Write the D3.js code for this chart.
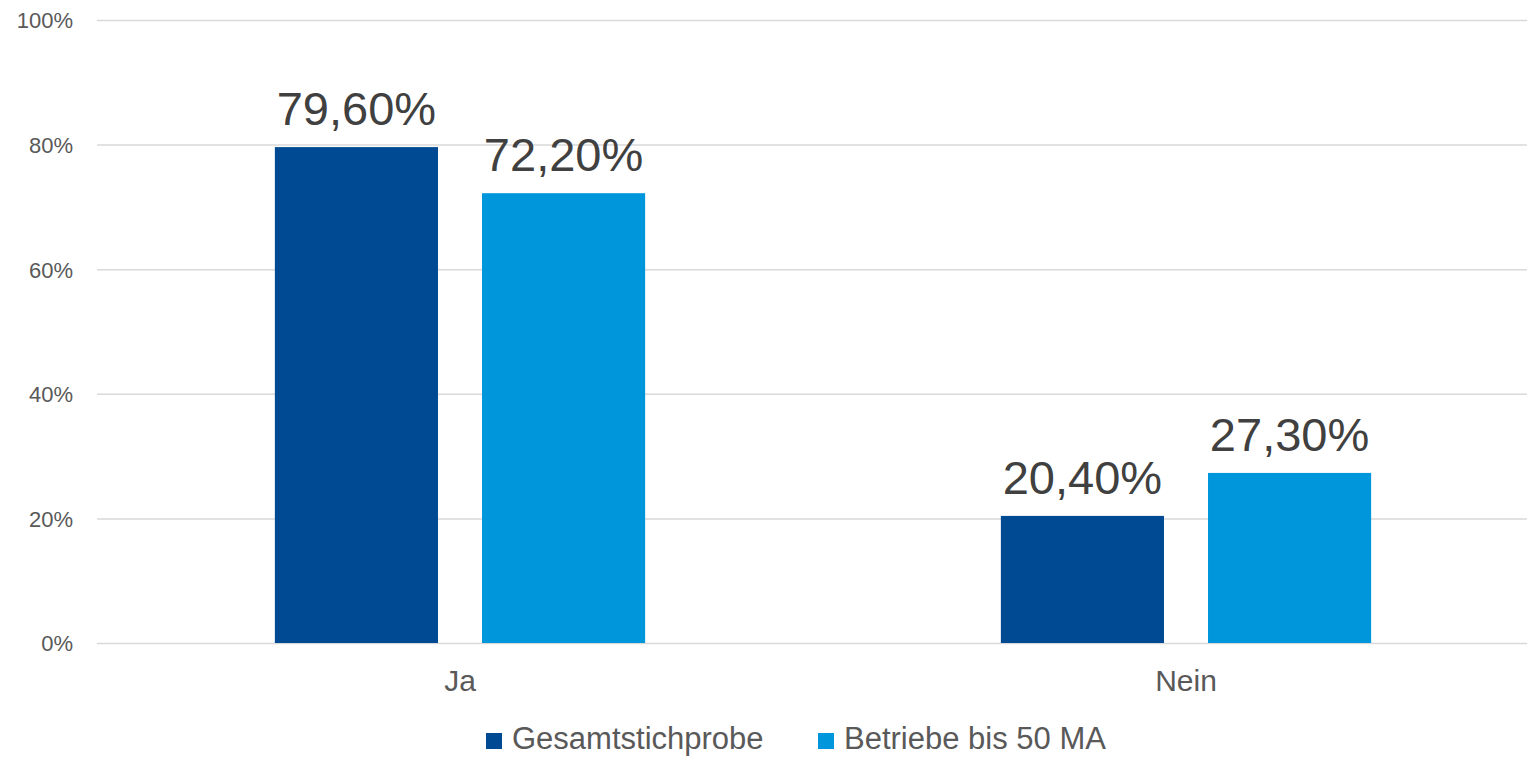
<!DOCTYPE html>
<html>
<head>
<meta charset="utf-8">
<script src="https://cdn.jsdelivr.net/npm/d3@7"></script>
<style>
  body { margin: 0; background: #fff; }
  svg { display: block; font-family: Arial, "Liberation Sans", sans-serif; }
</style>
</head>
<body>
<svg id="chart"></svg>
<script>
const width = 1527;
const height = 757;

// data
const categories = ["Ja", "Nein"];
const seriesNames = ["Gesamtstichprobe", "Betriebe bis 50 MA"];
const gesamt = [79.6, 20.4];
const betriebe = [72.2, 27.3];
const yTicks = [0, 20, 40, 60, 80, 100];
const colors = ["#004A93", "#0096DB"];

const seriesValues = [gesamt, betriebe];

const svg = d3.select("#chart")
    .attr("width", width)
    .attr("height", height)
    .attr("viewBox", [0, 0, width, height]);

const plotLeft = 97, plotRight = 1549, plotTop = 20, plotBottom = 643;

const x0 = d3.scaleBand()
    .domain(categories)
    .range([plotLeft, plotRight])
    .paddingInner(0.49)
    .paddingOuter(0.245);

const x1 = d3.scaleBand()
    .domain(seriesNames)
    .range([0, x0.bandwidth()])
    .paddingInner(0.2126)
    .paddingOuter(0);

const y = d3.scaleLinear()
    .domain([0, 100])
    .range([plotBottom, plotTop]);

// gridlines + y tick labels
const yAxis = svg.append("g")
    .attr("transform", `translate(${plotLeft},0)`)
    .call(d3.axisLeft(y)
        .tickValues(yTicks)
        .tickSize(-(width - plotLeft))
        .tickPadding(24)
        .tickFormat(d => d + "%"));

yAxis.select(".domain").remove();
yAxis.selectAll(".tick line")
    .attr("stroke", "#d9d9d9")
    .attr("stroke-width", 1.5);
yAxis.selectAll(".tick text")
    .attr("fill", "#595959")
    .attr("font-size", 22)
    .attr("dy", "0.36em");

// bars
const rows = categories.map((c, i) => ({
    cat: c,
    vals: seriesNames.map((s, j) => ({ key: s, value: seriesValues[j][i], idx: j }))
}));

const groups = svg.append("g")
    .selectAll("g")
    .data(rows)
    .join("g")
    .attr("transform", d => `translate(${x0(d.cat)},0)`);

groups.selectAll("rect")
    .data(d => d.vals)
    .join("rect")
    .attr("x", d => x1(d.key))
    .attr("y", d => y(d.value))
    .attr("width", x1.bandwidth())
    .attr("height", d => y(0) - y(d.value))
    .attr("fill", d => colors[d.idx]);

groups.selectAll("text.value")
    .data(d => d.vals)
    .join("text")
    .attr("class", "value")
    .attr("x", d => x1(d.key) + x1.bandwidth() / 2)
    .attr("y", d => y(d.value) - 22)
    .attr("text-anchor", "middle")
    .attr("font-size", 47)
    .attr("fill", "#404040")
    .text(d => d.value.toFixed(2).replace(".", ",") + "%");

// category labels
svg.append("g")
    .selectAll("text")
    .data(categories)
    .join("text")
    .attr("x", d => x0(d) + x0.bandwidth() / 2)
    .attr("y", 691)
    .attr("text-anchor", "middle")
    .attr("font-size", 30)
    .attr("fill", "#595959")
    .text(d => d);

// legend
const legendX = [486, 818];
const legend = svg.append("g")
    .selectAll("g")
    .data(seriesNames)
    .join("g")
    .attr("transform", (d, i) => `translate(${legendX[i]},733)`);

legend.append("rect")
    .attr("width", 16)
    .attr("height", 16)
    .attr("fill", (d, i) => colors[i]);

legend.append("text")
    .attr("x", 26)
    .attr("y", 16)
    .attr("font-size", 31)
    .attr("fill", "#595959")
    .text(d => d);
</script>
</body>
</html>
